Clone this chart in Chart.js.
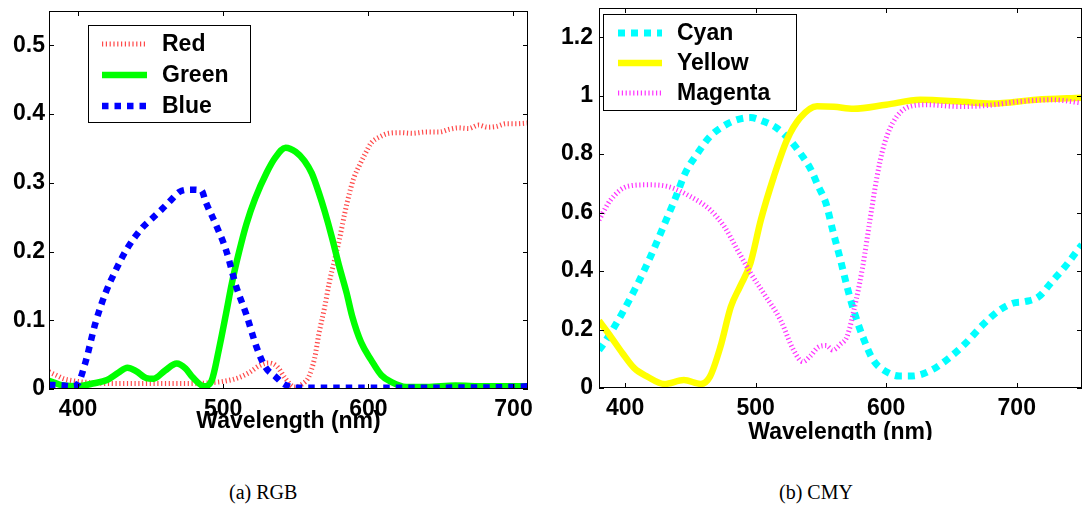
<!DOCTYPE html>
<html>
<head>
<meta charset="utf-8">
<script src="https://cdn.jsdelivr.net/npm/chart.js@4.4.1/dist/chart.umd.min.js"></script>
<style>
  html, body { margin: 0; padding: 0; background: #fff; }
  body { width: 1083px; height: 509px; position: relative; overflow: hidden; }
  canvas { position: absolute; }
  #cL { left: 0; top: 0; }
  #cR { left: 550px; top: 0; }
  .cap { position: absolute; font-family: "Liberation Serif", "DejaVu Serif", serif; font-size: 20px; color: #000; white-space: nowrap; }
</style>
</head>
<body>
<canvas id="cL" width="540" height="445"></canvas>
<canvas id="cR" width="533" height="440"></canvas>
<div class="cap" style="left:229px; top:481px;">(a) RGB</div>
<div class="cap" style="left:779px; top:481px;">(b) CMY</div>
<script>
// ---------- RGB data ----------
const redWl   = [380,385,390,400,410,420,440,460,480,490,500,510,518,525,531,537,543,549,555,559,563,566,570,573,577,580,584,587,590,594,598,602,608,614,622,630,640,649,656,662,669,676,682,688,695,702,710];
const redVal  = [0.025,0.02,0.015,0.011,0.009,0.008,0.008,0.008,0.008,0.009,0.011,0.016,0.024,0.034,0.038,0.033,0.015,0.003,0.008,0.018,0.045,0.081,0.12,0.154,0.19,0.217,0.258,0.285,0.307,0.326,0.343,0.358,0.367,0.372,0.373,0.372,0.374,0.374,0.378,0.38,0.379,0.384,0.381,0.382,0.386,0.386,0.387];
const greenWl  = [380,390,400,410,420,428,434,440,447,452,460,468,474,479,487,492,497,502,506,511,516,522,530,536,543,550,556,561,566,570,575,580,585,589,595,602,609,616,626,640,660,680,700,710];
const greenVal = [0.012,0.005,0.004,0.008,0.013,0.024,0.031,0.026,0.016,0.015,0.027,0.037,0.030,0.017,0.004,0.012,0.057,0.11,0.154,0.2,0.24,0.277,0.315,0.337,0.351,0.345,0.332,0.314,0.285,0.258,0.22,0.178,0.14,0.105,0.068,0.042,0.02,0.01,0.003,0.003,0.005,0.004,0.004,0.004];
const blueWl  = [380,390,396,400,405,412,419,426,434,444,452,458,465,470,477,485,488,495,502,509,516,523,529,536,542,550,600,650,700,710];
const blueVal = [0.006,0.005,0.004,0.008,0.038,0.096,0.14,0.173,0.205,0.234,0.25,0.262,0.277,0.287,0.29,0.289,0.272,0.239,0.202,0.149,0.108,0.061,0.032,0.018,0.007,0.002,0.002,0.002,0.003,0.004];
const rgbXTicks = [400,500,600,700];
const rgbYTicks = [0,0.1,0.2,0.3,0.4,0.5];

// ---------- CMY data ----------
const cyanWl  = [380,382,397,410,420,431,439,446,455,465,475,486,496,506,516,526,536,542,548,554,559,565,570,575,582,590,600,610,620,635,648,661,674,687,697,707,717,727,737,748,750];
const cyanVal = [0.13,0.141,0.25,0.36,0.455,0.57,0.655,0.735,0.80,0.86,0.895,0.918,0.925,0.912,0.89,0.849,0.792,0.75,0.69,0.63,0.54,0.438,0.347,0.267,0.176,0.096,0.056,0.041,0.041,0.062,0.102,0.154,0.216,0.267,0.29,0.296,0.313,0.364,0.415,0.479,0.49];
const yellowWl  = [380,389,398,407,417,430,445,458,465,473,481,488,496,504,514,524,534,547,560,575,600,626,656,681,715,750];
const yellowVal = [0.23,0.176,0.119,0.068,0.039,0.014,0.027,0.014,0.039,0.141,0.278,0.347,0.427,0.575,0.724,0.849,0.924,0.964,0.962,0.955,0.969,0.986,0.98,0.973,0.986,0.993];
const magentaWl  = [380,389,402,417,432,450,465,476,486,496,506,519,529,536,542,548,554,559,565,570,577,582,588,593,598,605,618,631,656,676,702,727,750];
const magentaVal = [0.575,0.644,0.69,0.695,0.69,0.655,0.61,0.552,0.473,0.394,0.325,0.233,0.13,0.09,0.11,0.14,0.145,0.13,0.15,0.176,0.301,0.415,0.587,0.724,0.826,0.907,0.963,0.969,0.963,0.966,0.98,0.986,0.975];
const cmyXTicks = [400,500,600,700];
const cmyYTicks = [0,0.2,0.4,0.6,0.8,1,1.2];

const pts = (xs, ys) => xs.map((x, i) => ({x: x, y: ys[i]}));
const FONT = '"Liberation Sans", Arial, Helvetica, sans-serif';

const framePlugin = {
  id: 'frame',
  afterDatasetsDraw(chart) {
    const {ctx, chartArea: a} = chart;
    const xs = chart.scales.x, ys = chart.scales.y;
    ctx.save();
    ctx.strokeStyle = '#000';
    ctx.lineWidth = 1;
    ctx.setLineDash([]);
    ctx.strokeRect(Math.round(a.left) + 0.5, Math.round(a.top) + 0.5, Math.round(a.right - a.left) - 1, Math.round(a.bottom - a.top) - 1);
    const L = 5;
    ctx.beginPath();
    xs.ticks.forEach(t => {
      const px = Math.round(xs.getPixelForValue(t.value)) + 0.5;
      ctx.moveTo(px, a.bottom); ctx.lineTo(px, a.bottom - L);
      ctx.moveTo(px, a.top); ctx.lineTo(px, a.top + L);
    });
    ys.ticks.forEach(t => {
      const py = Math.round(ys.getPixelForValue(t.value)) + 0.5;
      ctx.moveTo(a.left, py); ctx.lineTo(a.left + L, py);
      ctx.moveTo(a.right, py); ctx.lineTo(a.right - L, py);
    });
    ctx.stroke();
    ctx.restore();
  }
};

const boxLegendPlugin = {
  id: 'boxLegend',
  afterDatasetsDraw(chart, args, o) {
    const ctx = chart.ctx;
    ctx.save();
    ctx.fillStyle = '#fff';
    ctx.fillRect(o.x, o.y, o.w, o.h);
    ctx.strokeStyle = '#000';
    ctx.lineWidth = 1;
    ctx.setLineDash([]);
    ctx.strokeRect(o.x + 0.5, o.y + 0.5, o.w, o.h);
    chart.data.datasets.forEach((ds, i) => {
      const cy = o.y + o.row0 + i * o.rowGap;
      ctx.save();
      ctx.strokeStyle = ds.borderColor;
      ctx.lineWidth = ds.borderWidth;
      ctx.lineCap = 'butt';
      ctx.setLineDash(ds.borderDash || []);
      ctx.beginPath();
      ctx.moveTo(o.x + o.line0, cy);
      ctx.lineTo(o.x + o.line1, cy);
      ctx.stroke();
      ctx.restore();
      ctx.fillStyle = '#000';
      ctx.font = 'bold 23px ' + FONT;
      ctx.textBaseline = 'middle';
      ctx.textAlign = 'left';
      ctx.fillText(ds.label, o.x + o.text0, cy + 1);
    });
    ctx.restore();
  }
};

function makeChart(id, datasets, xMin, xMax, xTicks, yMax, yTicks, geom, legendOpts) {
  return new Chart(document.getElementById(id), {
    type: 'line',
    data: { datasets: datasets },
    options: {
      responsive: false,
      animation: false,
      events: [],
      layout: { padding: { top: geom.top, right: geom.right, left: 0, bottom: 0 } },
      elements: { point: { radius: 0 }, line: { cubicInterpolationMode: 'monotone', borderCapStyle: 'butt' } },
      plugins: {
        legend: { display: false },
        tooltip: { enabled: false },
        boxLegend: legendOpts
      },
      scales: {
        x: {
          type: 'linear', min: xMin, max: xMax,
          grid: { display: false, drawTicks: false },
          border: { display: false },
          afterBuildTicks: s => { s.ticks = xTicks.map(v => ({value: v})); },
          afterFit: s => { s.height = geom.xh; s.paddingLeft = 0; s.paddingRight = 0; },
          ticks: { autoSkip: false, maxRotation: 0, padding: geom.xpad, color: '#000',
                   font: { family: FONT, size: 23, weight: 'bold', lineHeight: 1 },
                   callback: v => String(v) },
          title: { display: true, text: 'Wavelength (nm)', color: '#000',
                   font: { family: FONT, size: 23, weight: 'bold', lineHeight: 1 },
                   padding: { top: 0, bottom: geom.tpad } }
        },
        y: {
          min: 0, max: yMax,
          grid: { display: false, drawTicks: false },
          border: { display: false },
          afterBuildTicks: s => { s.ticks = yTicks.map(v => ({value: v})); },
          afterFit: s => { s.width = geom.yw; s.paddingTop = 0; s.paddingBottom = 0; },
          ticks: { autoSkip: false, padding: geom.ypad, color: '#000',
                   font: { family: FONT, size: 23, weight: 'bold', lineHeight: 1 },
                   callback: v => String(+v.toFixed(2)) }
        }
      }
    },
    plugins: [framePlugin, boxLegendPlugin]
  });
}

// order: first series drawn underneath, last series on top (like the original plot)
makeChart('cL', [
  { label: 'Red', data: pts(redWl, redVal), borderColor: '#ff4a4a', borderWidth: 5, borderDash: [1.2, 2.6], order: 2 },
  { label: 'Green', data: pts(greenWl, greenVal), borderColor: '#00ff00', borderWidth: 6.5, order: 1 },
  { label: 'Blue', data: pts(blueWl, blueVal), borderColor: '#0000ff', borderWidth: 6.5, borderDash: [6.5, 6], order: 0 }
], 380, 710, rgbXTicks, 0.55, rgbYTicks,
  { top: 11, right: 12, xh: 56, yw: 49, xpad: 9, ypad: 4, tpad: 12 },
  { x: 88, y: 25, w: 162, h: 97, row0: 19, rowGap: 31, line0: 14, line1: 59, text0: 74 });

makeChart('cR', [
  { label: 'Cyan', data: pts(cyanWl, cyanVal), borderColor: '#00ffff', borderWidth: 7, borderDash: [7, 6], order: 2 },
  { label: 'Yellow', data: pts(yellowWl, yellowVal), borderColor: '#ffff00', borderWidth: 6.5, order: 1 },
  { label: 'Magenta', data: pts(magentaWl, magentaVal), borderColor: '#ff33ff', borderWidth: 5, borderDash: [1.2, 2.6], order: 0 }
], 380, 750, cmyXTicks, 1.3, cmyYTicks,
  { top: 8, right: 1, xh: 52, yw: 49, xpad: 9, ypad: 6, tpad: -4 },
  { x: 53, y: 14, w: 193, h: 96, row0: 19, rowGap: 30, line0: 15, line1: 59, text0: 74 });
</script>
</body>
</html>
